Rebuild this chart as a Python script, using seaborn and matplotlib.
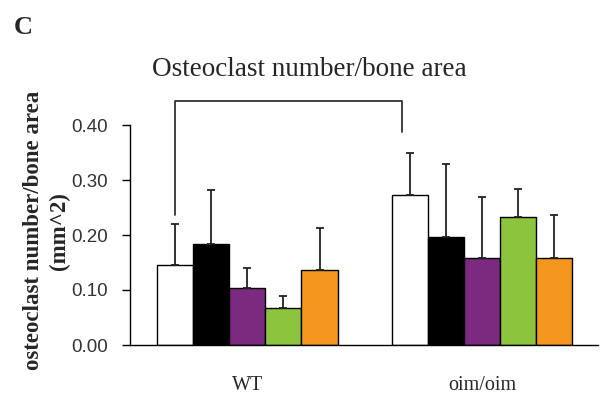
import matplotlib
matplotlib.use("Agg")
import matplotlib.pyplot as plt
import seaborn as sns
import pandas as pd
from matplotlib import font_manager

# Data: mean osteoclast number per bone area (mm^2) and upper SD per group
genotypes = ["WT", "oim/oim"]
treatments = ["T1", "T2", "T3", "T4", "T5"]
wt_mean = [0.145, 0.184, 0.103, 0.068, 0.137]
wt_sd = [0.075, 0.097, 0.037, 0.022, 0.076]
oim_mean = [0.272, 0.197, 0.159, 0.233, 0.159]
oim_sd = [0.078, 0.132, 0.110, 0.051, 0.077]
bar_colors = ["#ffffff", "#000000", "#7b2a7f", "#8cc43e", "#f5961e"]
y_ticks = [0.00, 0.10, 0.20, 0.30, 0.40]

rows = []
for g, means, sds in [(genotypes[0], wt_mean, wt_sd), (genotypes[1], oim_mean, oim_sd)]:
    for t, m, s in zip(treatments, means, sds):
        rows.append({"genotype": g, "treatment": t, "value": m, "sd": s})
df = pd.DataFrame(rows)

sns.set_style("white")
serif = ["Liberation Serif", "DejaVu Serif"]
installed = {f.name for f in font_manager.fontManager.ttflist}
tick_font = "Liberation Sans Narrow" if "Liberation Sans Narrow" in installed else "Liberation Sans"

fig = plt.figure(figsize=(6.0, 3.98), dpi=100)
ax = fig.add_axes([130 / 600, 1 - 345 / 398, (598 - 130) / 600, (345 - 125) / 398])

sns.barplot(data=df, x="genotype", y="value", hue="treatment", order=genotypes,
            hue_order=treatments, palette=bar_colors, errorbar=None, width=0.77,
            edgecolor="black", linewidth=1.0, saturation=1, legend=False, ax=ax)

# upper-only error bars placed on each bar
bars = [p for p in ax.patches if p.get_height() > 0]
bars.sort(key=lambda p: p.get_x())
means = wt_mean + oim_mean
sds = wt_sd + oim_sd
xs = [p.get_x() + p.get_width() / 2 for p in bars]
ax.errorbar(xs, means, yerr=[[0] * len(sds), sds], fmt="none", ecolor="#222222",
            elinewidth=1.3, capsize=2.6, capthick=1.3, zorder=3)

# significance bracket between WT and oim/oim controls
left_x = xs[0]
right_x = bars[5].get_x() + 0.28 * bars[5].get_width()
ax.plot([left_x, left_x, right_x, right_x], [0.236, 0.4436, 0.4436, 0.387],
        color="#333333", lw=1.3, clip_on=False)

ax.set_ylim(0, 0.40)
ax.set_xlim(-0.5, 1.495)
ax.set_yticks(y_ticks)
ax.set_yticklabels([f"{v:.2f}" for v in y_ticks], fontfamily=tick_font,
                   fontsize=13.5, color="#333333")
ax.set_xticks([0, 1])
ax.set_xticklabels(genotypes, fontfamily=serif, fontsize=14.5)
ax.tick_params(axis="x", length=0, pad=22)
ax.set_xticks([-0.5, 0.5, 1.495], minor=True)
ax.tick_params(axis="x", which="minor", length=6, width=1, color="black", direction="inout")
ax.tick_params(axis="y", length=6, width=1, color="black", direction="out", pad=10, left=True)
for s in ["top", "right"]:
    ax.spines[s].set_visible(False)
for s in ["left", "bottom"]:
    ax.spines[s].set_color("black")
    ax.spines[s].set_linewidth(1.0)
ax.set_xlabel("")
ax.set_ylabel("osteoclast number/bone area\n(mm^2)", fontfamily=serif,
              fontweight="bold", fontsize=16.5, linespacing=1.3)
ax.yaxis.set_label_coords(-0.128, 0.52)

fig.text(309 / 600, 1 - 70 / 398, "Osteoclast number/bone area", ha="center",
         va="center", fontfamily=serif, fontsize=19.5)
fig.text(23 / 600, 1 - 28 / 398, "C", ha="center", va="center",
         fontfamily=serif, fontweight="bold", fontsize=19)

fig.savefig("out.png", dpi=100, facecolor="white")
